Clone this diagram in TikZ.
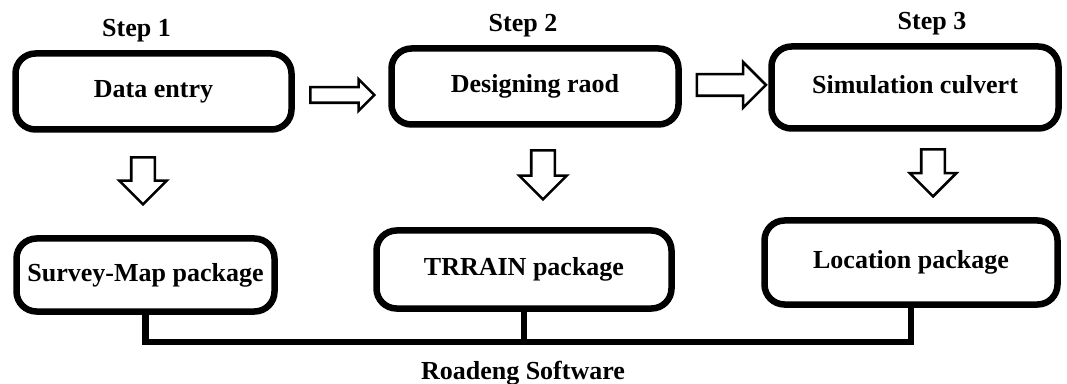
\documentclass[tikz,border=0pt]{standalone}
\usepackage{fontspec}
\setmainfont{Liberation Serif}
\usetikzlibrary{positioning,shapes.arrows}
\newcommand{\boxfont}{\fontsize{26}{30}\selectfont\bfseries}
\newcommand{\pkgfont}{\fontsize{26}{30}\selectfont\bfseries}

\begin{document}
\begin{tikzpicture}[x=1pt,y=1pt,
    stepbox/.style={draw,line width=6.5pt,rounded corners=20pt,font=\boxfont,
      text height=18pt,text depth=6pt,inner xsep=4pt},
    pkgbox/.style={stepbox,font=\pkgfont},
    steplabel/.style={font=\boxfont},
    blockarrow/.style={draw,single arrow,line width=2.6pt,
      single arrow tip angle=90,minimum width=0pt},
    bus/.style={line width=6.5pt}]
  \useasboundingbox (0,0) rectangle (1067,383);

  % top row
  \node[stepbox,minimum width=276,minimum height=76] (data) at (153.5,291.5) {Data entry};
  \node[stepbox,minimum width=287,minimum height=76] (design) at (535,296.5) {Designing raod};
  \node[stepbox,minimum width=287,minimum height=82] (culvert) at (915,295.5) {Simulation culvert};

  \node[steplabel,above=5pt of data,xshift=-17pt] (step1) {Step 1};
  \node[steplabel,above=5pt of design,xshift=-12pt] (step2) {Step 2};
  \node[steplabel,above=5pt of culvert,xshift=17pt] (step3) {Step 3};

  % bottom row
  \node[pkgbox,minimum width=258,minimum height=73] (survey) at (145.5,108) {Survey-Map package};
  \node[pkgbox,minimum width=295,minimum height=78] (trrain) at (524,113.5) {TRRAIN package};
  \node[pkgbox,minimum width=293,minimum height=84] (location) at (911,120.5) {Location package};

  % block arrows
  \node[blockarrow,minimum height=64,inner sep=6.5pt,single arrow head extend=8pt] (a12) at (338.5,288) {};
  \node[blockarrow,minimum height=69,inner sep=9.5pt,single arrow head extend=12pt] (a23) at (726,298) {};
  \node[blockarrow,shape border rotate=270,minimum height=47,inner sep=10.5pt,single arrow head extend=12pt] (d1) at (143,208) {};
  \node[blockarrow,shape border rotate=270,minimum height=49,inner sep=10.5pt,single arrow head extend=12pt] (d2) at (543,214) {};
  \node[blockarrow,shape border rotate=270,minimum height=47,inner sep=10.5pt,single arrow head extend=11.5pt] (d3) at (933,216) {};

  % common line
  \coordinate (bus) at (0,41);
  \draw[bus] (survey.south) -- (survey.south |- bus) -- (location.south |- bus) -- (location.south);
  \draw[bus] (trrain.south) -- (trrain.south |- bus);

  \node[font=\pkgfont,anchor=base] (roadeng) at (523,4) {Roadeng Software};
\end{tikzpicture}
\end{document}
